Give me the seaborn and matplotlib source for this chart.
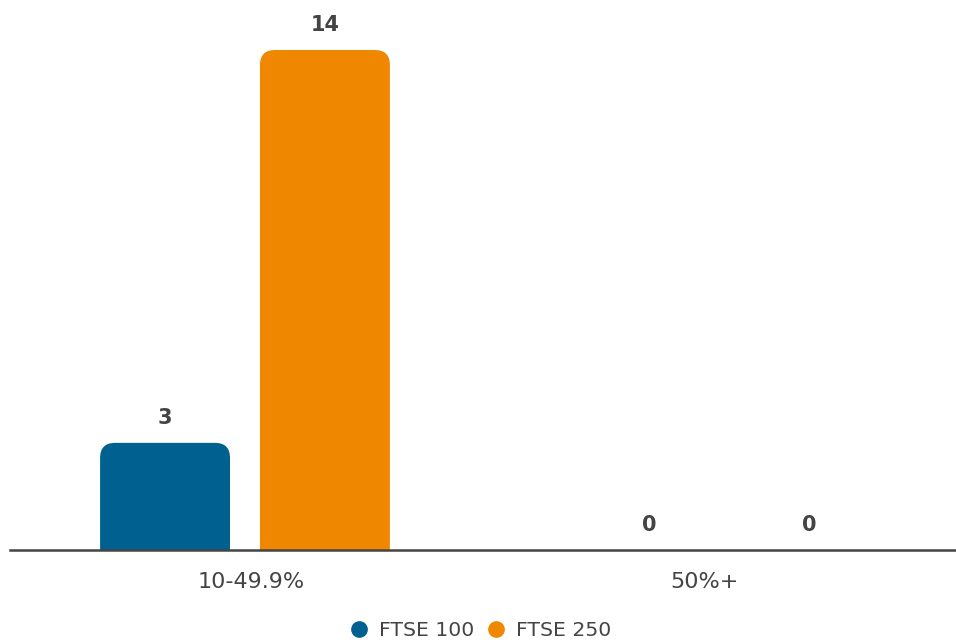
import matplotlib
matplotlib.use("Agg")
import matplotlib.pyplot as plt
import seaborn as sns
import pandas as pd
from matplotlib.patches import FancyBboxPatch
from matplotlib.lines import Line2D

categories = ["10-49.9%", "50%+"]
series = ["FTSE 100", "FTSE 250"]
ftse100 = [3, 0]
ftse250 = [14, 0]
colors = ["#00608f", "#f08700"]

df = pd.DataFrame({
    "cat": categories * 2,
    "series": [series[0]] * 2 + [series[1]] * 2,
    "value": ftse100 + ftse250,
})

sns.set_theme(style="white")
plt.rcParams["font.family"] = ["DejaVu Sans"]

fig = plt.figure(figsize=(9.56, 6.44), dpi=100)
ax = fig.add_axes([10 / 956, 94 / 644, 946 / 956, 550 / 644])

sns.barplot(data=df, x="cat", y="value", hue="series", palette=colors,
            width=0.66, gap=0.1875, ax=ax, legend=False, saturation=1)

ax.set_xlim(-0.485, 1.4675)
ax.set_ylim(0, 15.4)
fig.canvas.draw()

# Replace bars with rounded-top bars
px_per_x = ax.transData.transform((1, 0))[0] - ax.transData.transform((0, 0))[0]
px_per_y = ax.transData.transform((0, 1))[1] - ax.transData.transform((0, 0))[1]
radius_px = 15
bars = list(ax.patches)
for b in bars:
    x, w, h = b.get_x(), b.get_width(), b.get_height()
    col = b.get_facecolor()
    b.remove()
    if h > 0:
        r = radius_px / px_per_x
        aspect = px_per_x / px_per_y
        p = FancyBboxPatch((x, -1), w, h + 1,
                           boxstyle=f"round,pad=0,rounding_size={r}",
                           mutation_aspect=aspect, facecolor=col,
                           edgecolor="none", clip_on=True)
        ax.add_patch(p)
    ax.annotate(f"{int(h)}", (x + w / 2, h), xytext=(0, 11),
                textcoords="offset points", ha="center", va="bottom",
                fontsize=15, fontweight="bold", color="#444444")

for s in ["top", "right", "left"]:
    ax.spines[s].set_visible(False)
ax.spines["bottom"].set_color("#444444")
ax.spines["bottom"].set_linewidth(1.8)
ax.set_yticks([])
ax.set_xlabel("")
ax.set_ylabel("")
tick_offsets = [0.012, -0.052]
ax.set_xticks([i + o for i, o in enumerate(tick_offsets)], categories)
ax.tick_params(axis="x", length=0, pad=16, labelsize=16, labelcolor="#444444")

handles = [Line2D([0], [0], marker="o", linestyle="", markersize=11,
                  markerfacecolor=c, markeredgecolor=c) for c in colors]
fig.legend(handles, series, loc="center", bbox_to_anchor=(475 / 956, 1 - 631 / 644),
           ncol=2, frameon=False, fontsize=14.7, labelcolor="#444444",
           handletextpad=0.0, columnspacing=0.05)

fig.savefig("out.png", dpi=100)
